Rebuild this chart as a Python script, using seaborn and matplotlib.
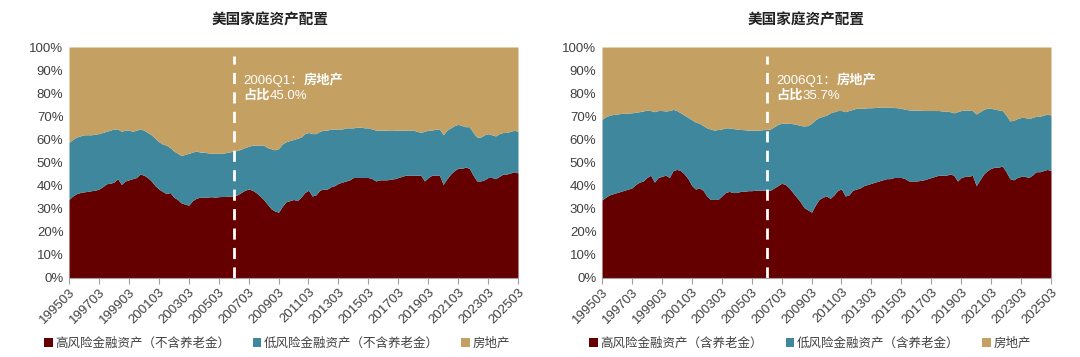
import numpy as np
import pandas as pd
import matplotlib
matplotlib.use("Agg")
import matplotlib.pyplot as plt
from matplotlib.patches import Patch
import seaborn as sns

# quarterly data 1995Q1 - 2025Q1, shares in %
quarters = [p.strftime("%Y") + "%02d" % (p.quarter * 3) for p in pd.period_range("1995Q1", "2025Q1", freq="Q")]

# left: excluding pensions
hi_ex = [34.0, 35.5, 36.5, 37.0, 37.3, 37.5, 37.8, 38.0, 38.5, 39.5,
         40.8, 41.0, 41.5, 43.0, 40.5, 42.0, 42.5, 43.0, 43.5, 45.0,
         44.5, 43.5, 42.0, 40.0, 38.5, 37.5, 36.5, 37.0, 35.0, 34.0,
         32.5, 32.0, 31.5, 33.5, 34.5, 35.0, 35.0, 35.0, 35.2, 35.0,
         35.2, 35.3, 35.3, 35.5, 35.5, 36.0, 37.0, 38.0, 38.5, 38.0,
         37.0, 35.5, 34.0, 32.0, 30.0, 29.0, 28.5, 31.0, 33.0, 33.5,
         34.0, 33.5, 35.0, 37.0, 38.0, 35.5, 36.0, 38.0, 38.5, 38.5,
         39.5, 40.0, 41.0, 41.5, 42.0, 42.5, 43.5, 43.5, 43.5, 43.5,
         43.5, 43.0, 42.0, 42.5, 42.5, 42.5, 42.8, 43.0, 43.5, 44.0,
         44.5, 44.5, 44.5, 44.5, 44.5, 42.0, 43.5, 44.5, 44.5, 44.5,
         40.5, 43.0, 45.0, 46.5, 47.5, 47.5, 48.0, 47.5, 44.5, 42.0,
         42.0, 42.5, 43.5, 43.5, 43.0, 44.0, 45.0, 45.0, 45.5, 46.0, 45.5]
fin_ex = [58.7, 60.0, 61.0, 61.5, 62.0, 62.0, 62.0, 62.3, 62.5, 63.0,
          63.5, 64.0, 64.5, 64.5, 63.5, 64.0, 64.0, 63.5, 64.0, 64.5,
          64.0, 63.0, 62.0, 60.5, 59.0, 58.0, 57.5, 56.5, 55.0, 54.0,
          53.0, 53.5, 54.0, 54.5, 55.0, 54.5, 54.5, 54.2, 54.0, 54.0,
          54.0, 54.0, 54.3, 54.6, 55.0, 55.2, 55.8, 56.5, 57.0, 57.5,
          57.5, 57.5, 57.5, 56.5, 56.0, 55.5, 56.0, 58.0, 59.0, 59.5,
          60.0, 60.5, 61.0, 62.5, 63.0, 62.5, 62.5, 63.5, 64.0, 64.0,
          64.5, 64.5, 64.5, 64.5, 65.0, 65.0, 65.0, 65.3, 65.3, 65.0,
          65.0, 64.5, 64.0, 64.0, 64.0, 64.0, 63.8, 64.0, 64.0, 64.0,
          64.0, 64.0, 64.0, 63.5, 63.0, 63.5, 64.0, 64.0, 64.5, 64.5,
          62.0, 64.0, 65.0, 66.0, 66.5, 66.0, 65.5, 65.5, 63.0, 61.0,
          61.0, 62.0, 62.5, 62.0, 61.5, 62.5, 63.0, 63.0, 63.5, 64.0, 63.5]

# right: including pensions
hi_in = [33.8, 35.0, 36.0, 36.5, 37.0, 37.5, 38.0, 38.5, 39.0, 40.5,
         41.5, 42.0, 43.5, 44.5, 41.5, 43.5, 44.0, 44.5, 43.5, 46.5,
         47.0, 46.5, 45.0, 43.0, 40.0, 38.5, 39.0, 38.0, 35.5, 34.0,
         34.0, 34.0, 35.5, 37.0, 37.5, 37.0, 37.0, 37.5, 37.5, 37.8,
         37.8, 38.0, 38.0, 38.0, 38.0, 38.0, 39.0, 40.0, 41.0, 40.5,
         39.0, 37.0, 35.0, 33.0, 30.5, 29.5, 28.5, 31.5, 34.0, 35.0,
         35.5, 34.5, 36.0, 38.0, 38.5, 35.5, 36.0, 38.0, 38.5, 39.0,
         40.0, 40.5, 41.0, 41.5, 42.0, 42.5, 43.0, 43.0, 43.5, 43.5,
         43.5, 43.0, 42.0, 42.0, 42.0, 42.2, 42.5, 43.0, 43.5, 44.0,
         44.5, 44.5, 44.5, 45.0, 44.5, 42.0, 43.5, 44.0, 44.0, 44.5,
         40.0, 42.5, 45.0, 46.5, 47.5, 48.0, 48.0, 48.5, 46.0, 43.0,
         42.5, 43.5, 44.0, 44.0, 43.5, 44.5, 46.0, 46.0, 46.5, 47.0, 46.5]
fin_in = [68.7, 69.8, 70.5, 70.8, 71.0, 71.2, 71.3, 71.4, 71.5, 71.8,
          72.0, 72.3, 72.7, 72.5, 72.0, 72.5, 72.5, 72.3, 72.5, 73.0,
          72.5, 71.5, 70.5, 69.5, 68.5, 67.5, 67.0, 66.0, 65.0, 64.5,
          64.0, 64.3, 64.5, 65.0, 65.0, 64.7, 64.5, 64.3, 64.2, 64.0,
          64.0, 64.0, 64.0, 64.2, 64.3, 64.5, 65.5, 66.5, 67.0, 67.0,
          67.0, 66.8, 66.5, 66.0, 65.8, 66.0, 67.0, 68.5, 69.5, 70.0,
          70.5, 71.5, 72.0, 72.5, 72.5, 72.0, 72.5, 73.0, 73.5, 73.5,
          73.5, 73.7, 73.7, 73.8, 74.0, 74.0, 74.0, 74.0, 73.8, 73.7,
          73.5, 73.0, 72.8, 72.7, 72.7, 72.6, 72.5, 72.5, 72.5, 72.5,
          72.5, 72.3, 72.3, 72.0, 71.5, 72.0, 72.5, 72.7, 72.7, 72.5,
          71.0, 72.0, 73.0, 73.5, 73.5, 73.0, 72.8, 72.5, 70.5, 68.0,
          68.3, 69.0, 69.5, 69.5, 69.0, 69.5, 70.0, 70.0, 70.5, 71.0, 70.5]

title = "美国家庭资产配置"
legend_ex = ["高风险金融资产（不含养老金）", "低风险金融资产（不含养老金）", "房地产"]
legend_in = ["高风险金融资产（含养老金）", "低风险金融资产（含养老金）", "房地产"]
notes = [("2006Q1：", "房地产", "占比", "45.0%"), ("2006Q1：", "房地产", "占比", "35.7%")]
mark_q = "200603"

colors = ["#650000", "#3F879D", "#C4A063"]
txt = "#404040"

sns.set_style("white")
plt.rcParams["font.family"] = ["Liberation Sans", "Noto Sans CJK SC"]

fig = plt.figure(figsize=(10.8, 3.57), dpi=100)

panels = [
    (69, 270, hi_ex, fin_ex, legend_ex, notes[0], 277),
    (602, 806, hi_in, fin_in, legend_in, notes[1], 810),
]

x = np.arange(len(quarters))
for left_px, title_px, hi, fin, labels, note, leg_px in panels:
    ax = fig.add_axes([left_px / 1080, 1 - 278 / 357, 449 / 1080, 231 / 357])
    hi = np.array(hi)
    fin = np.array(fin)
    lo = fin - hi
    re = 100 - fin
    ax.stackplot(x, hi, lo, re, colors=colors, linewidth=0)
    ax.set_xlim(0, len(quarters) - 1)
    ax.set_ylim(0, 100)
    ax.set_yticks(range(0, 101, 10))
    ax.set_yticklabels(["%d%%" % v for v in range(0, 101, 10)], fontsize=9.5, color=txt)
    ax.set_xticks(x[::8])
    ax.set_xticklabels(quarters[::8], rotation=45, ha="right", rotation_mode="anchor",
                       fontsize=9.5, color=txt)
    ax.tick_params(axis="x", length=4, width=0.8, color="#A0A0A0", bottom=True, pad=2)
    ax.tick_params(axis="y", length=0, pad=4)
    sns.despine(ax=ax, left=True, top=True, right=True)
    ax.spines["bottom"].set_color("#A0A0A0")

    qi = quarters.index(mark_q)
    ax.plot([qi, qi], [0, 96], color="white", lw=2, ls=(0, (4, 3)))
    # annotation: latin part regular, chinese part bold
    t1 = ax.annotate(note[0], (qi + 2.5, 84), color="white", fontsize=9.5, va="baseline")
    t2 = ax.annotate(note[1], xycoords=t1, xy=(1, 0), color="white", fontsize=9.5,
                     va="bottom", fontweight="bold")
    t3 = ax.annotate(note[2], (qi + 2.5, 77.5), color="white", fontsize=9.5, va="baseline",
                     fontweight="bold")
    ax.annotate(note[3], xycoords=t3, xy=(1, 0), color="white", fontsize=9.5, va="bottom")

    fig.text(title_px / 1080, 1 - 20 / 357, title, ha="center", va="center",
             fontsize=10.5, fontweight="bold", color="#222222")

    handles = [Patch(facecolor=c, edgecolor="none") for c in colors]
    fig.legend(handles, labels, loc="center", bbox_to_anchor=(leg_px / 1080, 1 - 344 / 357),
               ncol=3, frameon=False, fontsize=9, handlelength=0.7, handleheight=0.7,
               handletextpad=0.2, columnspacing=1.8, labelcolor=txt)

fig.savefig("out.png", dpi=100)
